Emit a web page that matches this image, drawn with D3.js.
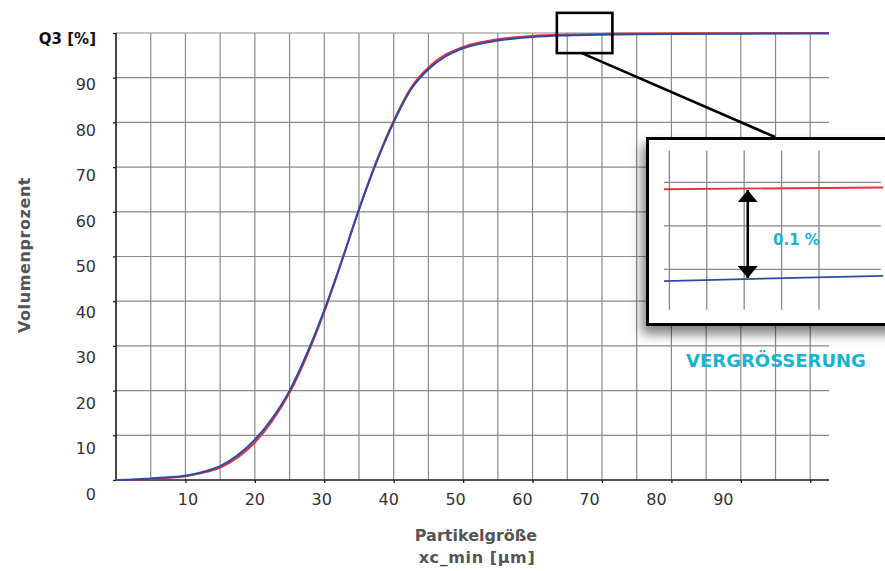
<!DOCTYPE html>
<html>
<head>
<meta charset="utf-8">
<script src="https://cdn.jsdelivr.net/npm/d3@7"></script>
<style>
  body { margin: 0; background: #fff; }
  svg { display: block; font-family: "DejaVu Sans", sans-serif; }
</style>
</head>
<body>
<div id="chart"></div>
<script>
// particle size [µm] and cumulative volume Q3 [%]
var sizes = [0, 2.5, 5, 7.5, 10, 12.5, 15, 17.5, 20, 22.5, 25, 27.5, 30, 32.5, 35, 37.5, 40, 42.5, 45, 47.5, 50, 55, 60, 65, 70, 75, 80, 90, 102.7];
var blueQ3 = [0, 0.1, 0.35, 0.6, 0.95, 1.8, 3.1, 5.5, 9.0, 13.8, 20.0, 28.3, 38.0, 49.0, 60.5, 71.0, 80.0, 87.4, 91.9, 94.8, 96.6, 98.3, 99.1, 99.45, 99.62, 99.72, 99.78, 99.85, 99.9];
var redQ3 = [0, 0.05, 0.25, 0.5, 0.85, 1.6, 2.8, 5.0, 8.4, 13.2, 19.5, 27.8, 37.6, 48.8, 60.6, 71.3, 80.4, 87.8, 92.3, 95.2, 96.9, 98.6, 99.35, 99.65, 99.8, 99.88, 99.92, 99.96, 100];

var xTicks = [10, 20, 30, 40, 50, 60, 70, 80, 90, 100];
var xTickLabels = ["10", "20", "30", "40", "50", "60", "70", "80", "90"];
var yTicks = [0, 10, 20, 30, 40, 50, 60, 70, 80, 90, 100];
var yTickLabels = ["0", "10", "20", "30", "40", "50", "60", "70", "80", "90", "Q3 [%]"];

// zoomed detail (inset units)
var insetCols = [1, 2, 3, 4, 5];
var insetRows = [1, 2, 3];
var insetRed = [[0.14, 1.16], [6, 1.12]];
var insetBlue = [[0.14, 3.27], [6, 3.15]];
var insetArrow = [[2.38, 1.18], [2.38, 3.2]];

var W = 885, H = 571;
var blue = "#2c4ca3", red = "#e8323c", cyan = "#1ab2cf";

var svg = d3.select("#chart").append("svg")
    .attr("width", W)
    .attr("height", H);

var defs = svg.append("defs");
defs.append("filter").attr("id", "shadow")
    .attr("x", "-20%").attr("y", "-20%").attr("width", "140%").attr("height", "150%")
  .append("feDropShadow")
    .attr("dx", -4).attr("dy", 8)
    .attr("stdDeviation", 6)
    .attr("flood-color", "#000")
    .attr("flood-opacity", 0.5);

["arrowEnd", "arrowStart"].forEach(function (id, i) {
  defs.append("marker")
      .attr("id", id)
      .attr("viewBox", "0 0 10 10")
      .attr("refX", 10).attr("refY", 5)
      .attr("markerUnits", "userSpaceOnUse")
      .attr("markerWidth", 12).attr("markerHeight", 20)
      .attr("orient", i ? "auto-start-reverse" : "auto")
      .attr("preserveAspectRatio", "none")
    .append("path")
      .attr("d", "M0,0L10,5L0,10Z")
      .attr("fill", "#000");
});

// scales
var x = d3.scaleLinear().domain([0, 102.7]).range([116, 829]);
var y = d3.scaleLinear().domain([0, 100]).range([480, 33]);
// labels in the original sit on a slightly different spacing than the grid
var xLab = d3.scaleLinear().domain([0, 100]).range([x(0) + 5, x(100) - 20]);
var yLab = d3.scaleLinear().domain([0, 100]).range([y(0) + 14, y(100) + 6]);

// grid
var grid = svg.append("g").attr("stroke", "#8a8a8a").attr("stroke-width", 1.2);
grid.selectAll(".v")
    .data(d3.range(5, 101, 5))
  .enter().append("line")
    .attr("x1", function (d) { return x(d); })
    .attr("x2", function (d) { return x(d); })
    .attr("y1", y(0)).attr("y2", y(100));
grid.selectAll(".h")
    .data(yTicks.slice(1))
  .enter().append("line")
    .attr("x1", x(0)).attr("x2", x(102.7))
    .attr("y1", function (d) { return y(d); })
    .attr("y2", function (d) { return y(d); });

// axes
var xAxis = d3.axisBottom(x).tickValues(xTicks).tickSize(3).tickFormat("");
var yAxis = d3.axisLeft(y).tickValues(yTicks).tickSize(3).tickFormat("");

svg.append("g")
    .attr("class", "x axis")
    .attr("transform", "translate(0," + y(0) + ")")
    .call(xAxis)
    .call(function (g) {
      g.select(".domain").attr("stroke", "#1a1a1a").attr("stroke-width", 1.6).attr("d", "M" + x(0) + ",0H" + x(102.7));
      g.selectAll(".tick line").attr("stroke", "#1a1a1a").attr("stroke-width", 1.3);
    });

svg.append("g")
    .attr("class", "y axis")
    .attr("transform", "translate(" + x(0) + ",0)")
    .call(yAxis)
    .call(function (g) {
      g.select(".domain").attr("stroke", "#1a1a1a").attr("stroke-width", 1.6).attr("d", "M0," + y(100) + "V" + y(0));
      g.selectAll(".tick line").attr("stroke", "#1a1a1a").attr("stroke-width", 1.3);
    });

// tick labels
svg.append("g").selectAll("text")
    .data(xTickLabels)
  .enter().append("text")
    .attr("x", function (d) { return xLab(+d); })
    .attr("y", 505)
    .attr("text-anchor", "middle")
    .attr("font-size", 16)
    .attr("fill", "#333")
    .text(function (d) { return d; });

svg.append("g").selectAll("text")
    .data(yTicks)
  .enter().append("text")
    .attr("x", 96)
    .attr("y", function (d) { return yLab(d); })
    .attr("dy", "0.36em")
    .attr("text-anchor", "end")
    .attr("font-size", function (d, i) { return i === 10 ? 15 : 16; })
    .attr("font-weight", function (d, i) { return i === 10 ? "bold" : "normal"; })
    .attr("fill", function (d, i) { return i === 10 ? "#111" : "#333"; })
    .text(function (d, i) { return yTickLabels[i]; });

// axis titles
svg.append("text")
    .attr("transform", "translate(30,255) rotate(-90)")
    .attr("text-anchor", "middle")
    .attr("font-size", 16)
    .attr("font-weight", "bold")
    .attr("letter-spacing", 0.6)
    .attr("fill", "#555")
    .text("Volumenprozent");

svg.append("text")
    .attr("x", 476).attr("y", 541)
    .attr("text-anchor", "middle")
    .attr("font-size", 16)
    .attr("font-weight", "bold")
    .attr("fill", "#555")
    .text("Partikelgröße");

svg.append("text")
    .attr("x", 477).attr("y", 563)
    .attr("text-anchor", "middle")
    .attr("font-size", 16)
    .attr("font-weight", "bold")
    .attr("letter-spacing", 0.6)
    .attr("fill", "#555")
    .text("xc_min [µm]");

// curves
var line = d3.line()
    .x(function (d) { return x(d[0]); })
    .y(function (d) { return y(d[1]); })
    .curve(d3.curveMonotoneX);

svg.append("path")
    .attr("d", line(d3.zip(sizes, redQ3)))
    .attr("fill", "none")
    .attr("stroke", red)
    .attr("stroke-width", 2);

svg.append("path")
    .attr("d", line(d3.zip(sizes, blueQ3)))
    .attr("fill", "none")
    .attr("stroke", blue)
    .attr("stroke-width", 2);

// zoom marker on the main chart
svg.append("rect")
    .attr("x", x(63.5)).attr("y", y(104.5))
    .attr("width", x(71.5) - x(63.5))
    .attr("height", y(95.5) - y(104.5))
    .attr("fill", "none")
    .attr("stroke", "#000")
    .attr("stroke-width", 2.6);

svg.append("line")
    .attr("x1", x(67.1)).attr("y1", y(95.5))
    .attr("x2", 775).attr("y2", 137)
    .attr("stroke", "#000")
    .attr("stroke-width", 2.6);

// inset
var ix = d3.scaleLinear().domain([0, 1]).range([664, 701.4]);
var iy = d3.scaleLinear().domain([0, 1]).range([138.8, 182.3]);

svg.append("rect")
    .attr("x", 647.5).attr("y", 138.5)
    .attr("width", 260).attr("height", 186)
    .attr("fill", "#fff")
    .attr("stroke", "#000")
    .attr("stroke-width", 3)
    .attr("filter", "url(#shadow)");

var ig = svg.append("g").attr("stroke", "#888").attr("stroke-width", 1.3);
ig.selectAll(".iv")
    .data(insetCols)
  .enter().append("line")
    .attr("x1", function (d) { return ix(d - 0.856); })
    .attr("x2", function (d) { return ix(d - 0.856); })
    .attr("y1", iy(0.27)).attr("y2", iy(3.93));
ig.selectAll(".ih")
    .data(insetRows)
  .enter().append("line")
    .attr("x1", ix(0)).attr("x2", ix(5.8))
    .attr("y1", function (d) { return iy(d); })
    .attr("y2", function (d) { return iy(d); });

var iline = d3.line()
    .x(function (d) { return ix(d[0] - 0.14); })
    .y(function (d) { return iy(d[1]); });

svg.append("path")
    .attr("d", iline(insetRed))
    .attr("fill", "none")
    .attr("stroke", red)
    .attr("stroke-width", 1.8);

svg.append("path")
    .attr("d", iline(insetBlue))
    .attr("fill", "none")
    .attr("stroke", blue)
    .attr("stroke-width", 1.8);

svg.append("path")
    .attr("d", iline(insetArrow))
    .attr("fill", "none")
    .attr("stroke", "#000")
    .attr("stroke-width", 2.6)
    .attr("marker-start", "url(#arrowStart)")
    .attr("marker-end", "url(#arrowEnd)");

svg.append("text")
    .attr("x", 773).attr("y", 245)
    .attr("font-size", 15)
    .attr("font-weight", "bold")
    .attr("fill", cyan)
    .text("0.1 %");

svg.append("text")
    .attr("x", 776).attr("y", 367)
    .attr("text-anchor", "middle")
    .attr("font-size", 18)
    .attr("font-weight", "bold")
    .attr("fill", cyan)
    .text("VERGRÖSSERUNG");
</script>
</body>
</html>
